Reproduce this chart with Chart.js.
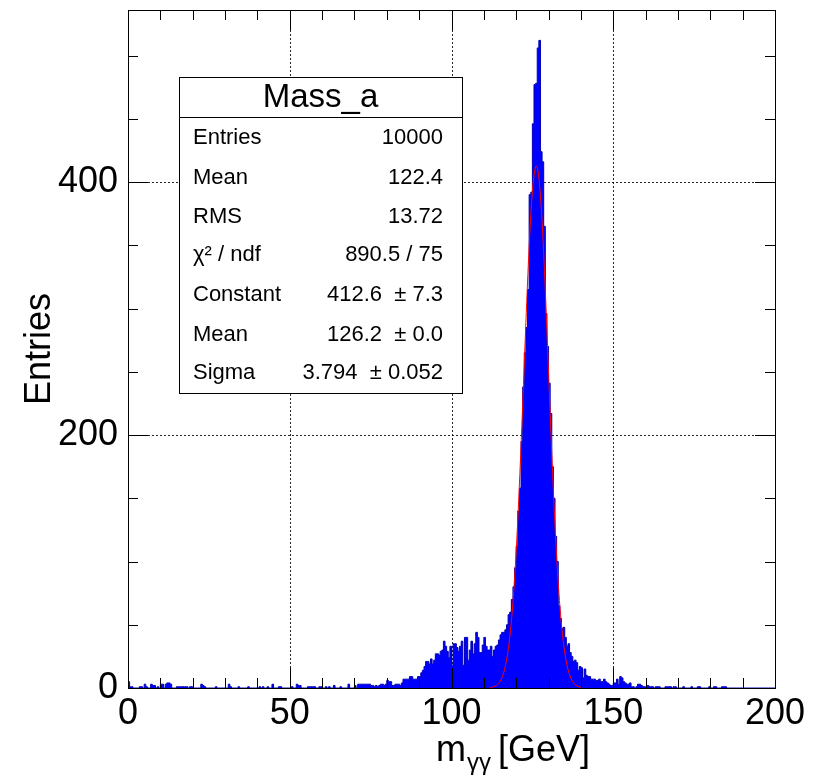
<!DOCTYPE html>
<html>
<head>
<meta charset="utf-8">
<title>Mass_a</title>
<script src="https://cdn.jsdelivr.net/npm/chart.js@4.4.1/dist/chart.umd.min.js"></script>
<style>
  html, body { margin: 0; padding: 0; background: #fff; }
  #wrap { width: 825px; height: 775px; }
</style>
</head>
<body>
<div id="wrap"><canvas id="massChart" width="825" height="775"></canvas></div>
<script>
// histogram: 400 bins of 0.5 GeV from 0 to 200, one row = 10 GeV
const BIN_WIDTH = 0.5;
const binCounts = [
  5, 1, 1, 0, 0, 0, 0, 1, 1, 0, 3, 1, 0, 0, 3, 2, 2, 0, 1, 0,
  3, 3, 0, 3, 4, 4, 3, 0, 0, 0, 1, 1, 1, 1, 1, 1, 1, 0, 1, 1,
  0, 0, 0, 0, 0, 3, 2, 1, 0, 0, 0, 0, 0, 0, 1, 0, 0, 0, 0, 0,
  0, 0, 3, 1, 0, 0, 0, 0, 1, 0, 0, 0, 0, 0, 1, 0, 0, 0, 0, 0,
  0, 1, 0, 1, 0, 0, 1, 0, 0, 3, 0, 0, 0, 1, 1, 0, 0, 0, 0, 0,
  0, 1, 0, 0, 3, 2, 2, 0, 0, 0, 0, 1, 1, 1, 1, 1, 0, 0, 1, 1,
  0, 0, 1, 0, 1, 0, 0, 2, 0, 0, 0, 1, 0, 0, 0, 0, 3, 0, 0, 0,
  2, 0, 3, 3, 3, 3, 3, 3, 3, 3, 2, 2, 1, 2, 1, 2, 3, 3, 2, 3,
  6, 5, 5, 2, 2, 3, 3, 3, 2, 4, 7, 7, 7, 7, 9, 9, 7, 7, 7, 9,
  9, 12, 14, 17, 21, 21, 19, 23, 19, 22, 27, 27, 26, 29, 30, 37, 33, 29, 24, 33,
  18, 35, 35, 32, 29, 33, 37, 18, 40, 40, 22, 30, 37, 27, 35, 44, 40, 28, 28, 34,
  40, 33, 30, 30, 33, 25, 30, 33, 34, 38, 42, 44, 44, 46, 50, 58, 60, 70, 80, 95,
  112, 140, 158, 195, 238, 265, 285, 315, 390, 392, 446, 477, 478, 506, 512, 424, 416, 365, 296, 270,
  241, 217, 175, 150, 120, 100, 65, 55, 47, 48, 40, 33, 35, 28, 25, 21, 22, 20, 14, 17,
  16, 8, 15, 10, 9, 9, 7, 7, 7, 6, 6, 7, 5, 5, 7, 5, 4, 3, 2, 2,
  4, 4, 7, 3, 9, 8, 5, 4, 3, 3, 4, 1, 1, 0, 1, 3, 3, 2, 1, 1,
  0, 2, 1, 1, 1, 0, 1, 1, 1, 0, 0, 0, 1, 1, 1, 1, 0, 1, 1, 0,
  0, 0, 0, 1, 0, 0, 0, 0, 1, 0, 0, 0, 1, 1, 0, 0, 0, 0, 0, 1,
  0, 0, 1, 1, 0, 0, 0, 1, 1, 1, 0, 0, 0, 0, 0, 0, 0, 0, 0, 0,
  0, 0, 0, 0, 0, 0, 0, 0, 0, 0, 0, 0, 0, 0, 0, 0, 0, 0, 0, 0,
];

// red gaussian fit curve
const fitMass = [112, 113, 114, 115, 116, 117, 118, 119, 120, 121, 122, 123, 124, 125, 126, 126.2,
  127, 128, 129, 130, 131, 132, 133, 134, 135, 136, 137, 138, 139, 140];
const fitValues = [0.4, 1.0, 2.3, 5.3, 11.1, 21.8, 39.9, 68.1, 108.6, 161.3, 223.5, 289.1, 348.7, 392.5, 412.0, 412.6,
  403.5, 368.7, 314.3, 249.8, 185.4, 128.2, 82.8, 49.9, 28.0, 14.7, 7.2, 3.3, 1.4, 0.6];

const xTicks = [0, 50, 100, 150, 200];
const yTicks = [0, 200, 400];
const xGrid = [50, 100, 150];
const yGrid = [200, 400];

const statTitle = 'Mass_a';
const statLabels = ['Entries', 'Mean', 'RMS', 'χ² / ndf', 'Constant', 'Mean', 'Sigma'];
const statValues = ['10000', '122.4', '13.72', '890.5 / 75', '412.6  ± 7.3', '126.2  ± 0.0', '3.794  ± 0.052'];

const FONT = "'Liberation Sans', Arial, Helvetica, sans-serif";

function histPoints() {
  const pts = binCounts.map((c, i) => ({ x: i * BIN_WIDTH, y: c }));
  pts.push({ x: binCounts.length * BIN_WIDTH, y: binCounts[binCounts.length - 1] });
  return pts;
}

function crisp(v) {
  return Math.round(v) + 0.5;
}

const rootStyle = {
  id: 'rootStyle',
  beforeDatasetsDraw(chart) {
    const { ctx, chartArea: a, scales: { x, y } } = chart;
    ctx.save();
    ctx.strokeStyle = 'rgba(0,0,0,0.85)';
    ctx.lineWidth = 1;
    ctx.setLineDash([2, 2]);
    ctx.beginPath();
    xGrid.forEach((v) => {
      const px = crisp(x.getPixelForValue(v));
      ctx.moveTo(px, a.top);
      ctx.lineTo(px, a.bottom);
    });
    yGrid.forEach((v) => {
      const py = crisp(y.getPixelForValue(v));
      ctx.moveTo(a.left, py);
      ctx.lineTo(a.right, py);
    });
    ctx.stroke();
    ctx.restore();
  },
  afterDatasetsDraw(chart) {
    const { ctx, chartArea: a, scales: { x, y } } = chart;
    ctx.save();
    ctx.strokeStyle = '#000';
    ctx.lineWidth = 1;
    ctx.beginPath();
    // x ticks every 10 GeV, long ones at the labels
    for (let v = 0; v <= 200; v += 10) {
      const px = crisp(x.getPixelForValue(v));
      const len = v % 50 === 0 ? 20 : 10;
      ctx.moveTo(px, a.bottom);
      ctx.lineTo(px, a.bottom - len);
      ctx.moveTo(px, a.top);
      ctx.lineTo(px, a.top + len);
    }
    // y ticks every 50 entries
    for (let v = 0; v <= y.max; v += 50) {
      const py = crisp(y.getPixelForValue(v));
      const len = v % 200 === 0 ? 20 : 10;
      ctx.moveTo(a.left, py);
      ctx.lineTo(a.left + len, py);
      ctx.moveTo(a.right, py);
      ctx.lineTo(a.right - len, py);
    }
    ctx.stroke();
    ctx.strokeRect(crisp(a.left), crisp(a.top), Math.round(a.right - a.left), Math.round(a.bottom - a.top));
    ctx.restore();
  },
  afterDraw(chart) {
    const { ctx } = chart;
    ctx.save();
    ctx.fillStyle = '#000';

    // y title
    ctx.save();
    ctx.translate(50, 349);
    ctx.rotate(-Math.PI / 2);
    ctx.font = `36px ${FONT}`;
    ctx.textAlign = 'center';
    ctx.textBaseline = 'alphabetic';
    ctx.fillText('Entries', 0, 0);
    ctx.restore();

    // x title with subscript
    let tx = 436;
    const base = 761;
    ctx.textAlign = 'left';
    ctx.textBaseline = 'alphabetic';
    ctx.font = `36px ${FONT}`;
    ctx.fillText('m', tx, base);
    tx += ctx.measureText('m').width + 1;
    ctx.font = `24px ${FONT}`;
    ctx.fillText('γγ', tx, base + 9);
    tx += ctx.measureText('γγ').width + 7;
    ctx.font = `36px ${FONT}`;
    ctx.fillText('[GeV]', tx, base);

    // stats box
    const L = 179, T = 77, R = 462, B = 393, H = 117;
    ctx.fillStyle = '#fff';
    ctx.fillRect(L, T, R - L, B - T);
    ctx.strokeStyle = '#000';
    ctx.lineWidth = 1;
    ctx.strokeRect(L + 0.5, T + 0.5, R - L, B - T);
    ctx.beginPath();
    ctx.moveTo(L, H + 0.5);
    ctx.lineTo(R, H + 0.5);
    ctx.stroke();
    ctx.fillStyle = '#000';
    ctx.font = `33px ${FONT}`;
    ctx.textAlign = 'center';
    ctx.textBaseline = 'middle';
    ctx.fillText(statTitle, (L + R) / 2, 98);
    const rowY = [138, 178, 217, 255, 295, 335, 373];
    ctx.font = `22px ${FONT}`;
    statLabels.forEach((label, i) => {
      ctx.textAlign = 'left';
      ctx.fillText(label, 193, rowY[i]);
      ctx.textAlign = 'right';
      ctx.fillText(statValues[i], 443, rowY[i]);
    });
    ctx.restore();
  },
};

const tickFont = { family: FONT, size: 36 };

new Chart(document.getElementById('massChart'), {
  type: 'line',
  data: {
    datasets: [
      {
        label: 'gaus',
        data: fitMass.map((m, i) => ({ x: m, y: fitValues[i] })),
        borderColor: '#ff0000',
        borderWidth: 1,
        pointRadius: 0,
        fill: false,
        cubicInterpolationMode: 'monotone',
        order: 0,
      },
      {
        label: 'Mass_a',
        data: histPoints(),
        stepped: true,
        borderColor: '#0000b4',
        borderWidth: 1,
        backgroundColor: '#0000ff',
        fill: 'origin',
        pointRadius: 0,
        order: 1,
      },
    ],
  },
  options: {
    responsive: false,
    animation: false,
    events: [],
    layout: { padding: { left: 0, right: 50, top: 10, bottom: 0 } },
    plugins: { legend: { display: false }, tooltip: { enabled: false } },
    scales: {
      x: {
        type: 'linear',
        min: 0,
        max: 200,
        afterBuildTicks: (s) => { s.ticks = xTicks.map((v) => ({ value: v })); },
        afterFit: (s) => { s.height = 87; s.paddingLeft = 0; s.paddingRight = 0; },
        ticks: { font: tickFont, color: '#000', padding: 4, maxRotation: 0, autoSkip: false },
        grid: { display: false, drawTicks: false },
        border: { display: false },
      },
      y: {
        type: 'linear',
        min: 0,
        max: 536,
        afterBuildTicks: (s) => { s.ticks = yTicks.map((v) => ({ value: v })); },
        afterFit: (s) => { s.width = 128; s.paddingTop = 0; s.paddingBottom = 0; },
        ticks: { font: tickFont, color: '#000', padding: 10, autoSkip: false },
        grid: { display: false, drawTicks: false },
        border: { display: false },
      },
    },
  },
  plugins: [rootStyle],
});
</script>
</body>
</html>
